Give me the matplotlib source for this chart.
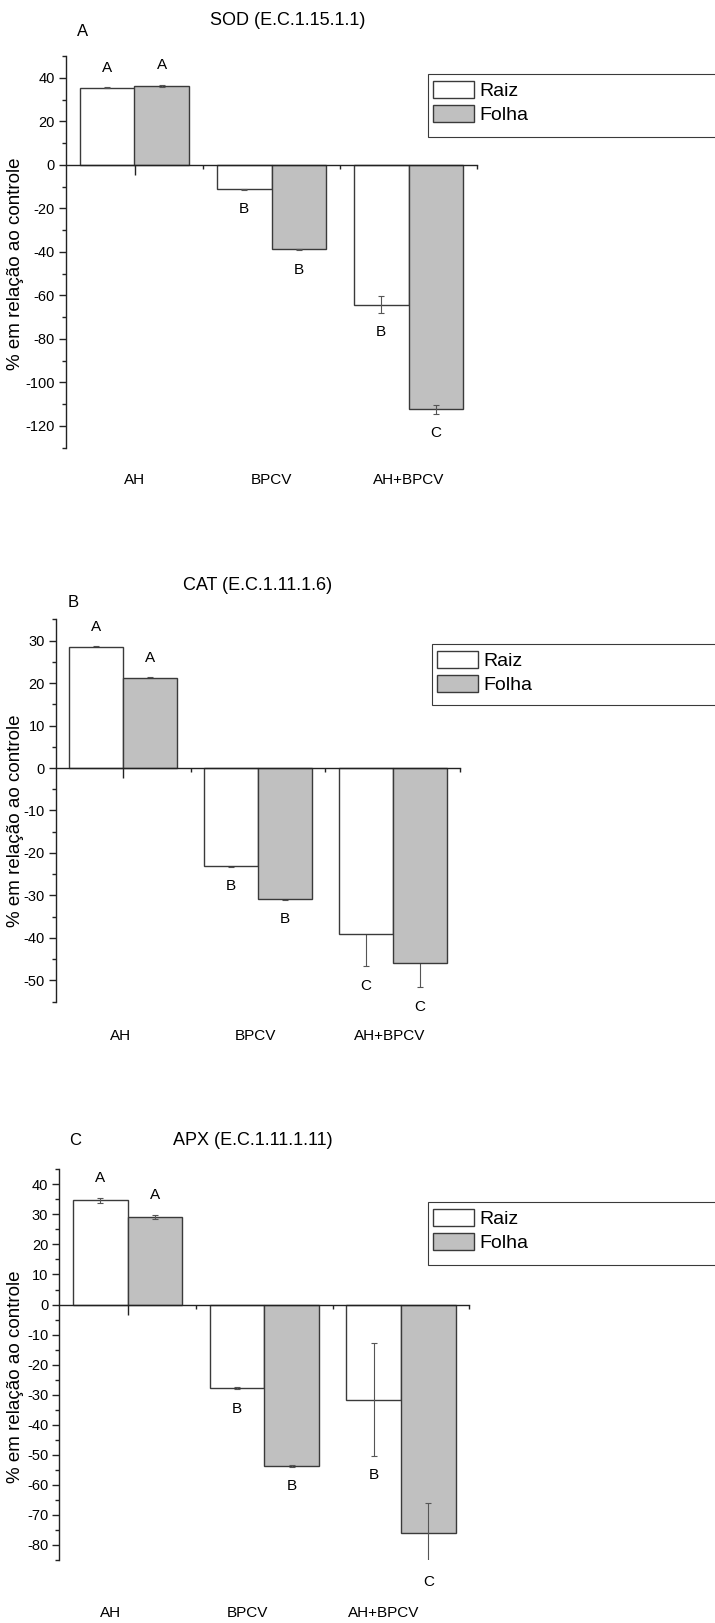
import numpy as np
import matplotlib
matplotlib.use('Agg')
import matplotlib.pyplot as plt
from matplotlib.patches import Rectangle
from matplotlib.ticker import MultipleLocator, FixedLocator

plt.rcParams['font.family'] = ['Liberation Sans', 'DejaVu Sans']
plt.rcParams['axes.unicode_minus'] = False

W, H = 715, 1623

groups = ['AH', 'BPCV', 'AH+BPCV']
series = ['Raiz', 'Folha']

# SOD
sod_raiz = [35.4, -11.3, -64.2]
sod_folha = [36.2, -38.9, -112.3]
sod_raiz_err = [0.2, 0.2, 3.8]
sod_folha_err = [0.5, 0.3, 2.1]
sod_raiz_letters = ['A', 'B', 'B']
sod_folha_letters = ['A', 'B', 'C']

# CAT
cat_raiz = [28.5, -23.1, -39.1]
cat_folha = [21.2, -30.8, -45.9]
cat_raiz_err = [0.2, 0.2, 7.6]
cat_folha_err = [0.2, 0.2, 5.7]
cat_raiz_letters = ['A', 'B', 'C']
cat_folha_letters = ['A', 'B', 'C']

# APX
apx_raiz = [34.7, -27.9, -31.6]
apx_folha = [29.1, -53.7, -75.9]
apx_raiz_err = [0.8, 0.3, 18.7]
apx_folha_err = [0.8, 0.3, 10.0]
apx_raiz_letters = ['A', 'B', 'B']
apx_folha_letters = ['A', 'B', 'C']

EDGE = '#3a3a3a'
GREY = '#c0c0c0'


def px_box(left, top, right, bottom):
    """ axes rectangle in figure fraction from pixel edges """
    return [left / W, 1 - bottom / H, (right - left) / W, (bottom - top) / H]


def plot_panel(ax, raiz, folha, raiz_err, folha_err, raiz_let, folha_let,
               ylim, major, err_front=True):
    x = np.arange(1, len(groups) + 1)
    ez = 4 if err_front else 1
    ax.set_facecolor('none')
    ax.bar(x - 0.2, raiz, 0.4, color='white', edgecolor=EDGE, linewidth=1.0,
           zorder=2, label=series[0])
    ax.bar(x + 0.2, folha, 0.4, color=GREY, edgecolor=EDGE, linewidth=1.0,
           zorder=2, label=series[1])
    ax.errorbar(x - 0.2, raiz, yerr=raiz_err, fmt='none', ecolor='#555555',
                elinewidth=0.8, capsize=2.5, capthick=0.8, zorder=ez)
    ax.errorbar(x + 0.2, folha, yerr=folha_err, fmt='none', ecolor='#555555',
                elinewidth=0.8, capsize=2.5, capthick=0.8, zorder=ez)

    # significance letters
    for xs, vals, errs, lets in [(x - 0.2, raiz, raiz_err, raiz_let),
                                 (x + 0.2, folha, folha_err, folha_let)]:
        for xi, v, e, l in zip(xs, vals, errs, lets):
            if v > 0:
                y, dy = v + e, 14
            else:
                y, dy = v - e, -14
            ax.annotate(l, (xi, y), xytext=(0, dy), textcoords='offset points',
                        ha='center', va='center', fontsize=11,
                        annotation_clip=False)

    ax.set_xlim(0.5, 3.5)
    ax.set_ylim(*ylim)
    ax.spines['top'].set_visible(False)
    ax.spines['right'].set_visible(False)
    ax.spines['bottom'].set_position(('data', 0))
    ax.spines['bottom'].set_zorder(3)
    for s in ['left', 'bottom']:
        ax.spines[s].set_linewidth(1.0)
        ax.spines[s].set_color('#222222')

    ax.yaxis.set_major_locator(MultipleLocator(major))
    ax.yaxis.set_minor_locator(MultipleLocator(major / 2))
    ax.tick_params(axis='y', which='major', direction='out', length=5,
                   width=1, labelsize=10.5, pad=3, color='#222222')
    ax.tick_params(axis='y', which='minor', direction='out', length=3,
                   width=1, color='#222222')

    ax.xaxis.set_major_locator(FixedLocator(x))
    ax.xaxis.set_minor_locator(FixedLocator(x + 0.5))
    ax.tick_params(axis='x', which='major', direction='out', length=7,
                   width=1, labelbottom=False, color='#222222')
    ax.tick_params(axis='x', which='minor', direction='out', length=3,
                   width=1, color='#222222')
    return x


def category_labels(ax, x, drop, shift):
    for xi, g in zip(x, groups):
        ax.annotate(g, xy=(xi, 0), xycoords=('data', 'axes fraction'),
                    xytext=(shift * 0.72, -drop * 0.72), textcoords='offset points',
                    ha='center', va='center', fontsize=11,
                    annotation_clip=False)


def add_legend(ax, left, top, bottom):
    # Origin-style box that runs off the right edge of the page
    ax.add_artist(Rectangle((left / W, 1 - bottom / H), (W + 10 - left) / W,
                            (bottom - top) / H, transform=fig.transFigure,
                            facecolor='white', edgecolor=EDGE, linewidth=0.8,
                            clip_on=False, zorder=4))
    ax.legend(loc='upper left', bbox_to_anchor=((left + 5) / W, 1 - (top + 7) / H),
              bbox_transform=fig.transFigure, fontsize=14, frameon=False,
              borderpad=0, handlelength=2.1, handleheight=0.95,
              labelspacing=0.25, handletextpad=0.28, borderaxespad=0)


def ylabel(center_y):
    fig.text(16 / W, 1 - center_y / H, '% em relação ao controle',
             rotation=90, ha='center', va='center', fontsize=13.5)


fig = plt.figure(figsize=(W / 100, H / 100), dpi=100)

# panel A
ax1 = fig.add_axes(px_box(66, 56, 477, 447.7))
x = plot_panel(ax1, sod_raiz, sod_folha, sod_raiz_err, sod_folha_err,
               sod_raiz_letters, sod_folha_letters, (-130, 50), 20)
category_labels(ax1, x, 32, 0)
add_legend(ax1, 428, 74, 137)
fig.text(288 / W, 1 - 20.7 / H, 'SOD (E.C.1.15.1.1)', ha='center', va='center', fontsize=13)
fig.text(83 / W, 1 - 31.7 / H, 'A', ha='center', va='center', fontsize=12)
ylabel(264)

# panel B
ax2 = fig.add_axes(px_box(56, 619.3, 460, 1001.7))
x = plot_panel(ax2, cat_raiz, cat_folha, cat_raiz_err, cat_folha_err,
               cat_raiz_letters, cat_folha_letters, (-55, 35), 10, err_front=False)
category_labels(ax2, x, 34, -3)
add_legend(ax2, 431.7, 644.3, 705)
fig.text(258 / W, 1 - 585 / H, 'CAT (E.C.1.11.1.6)', ha='center', va='center', fontsize=13)
fig.text(72.7 / W, 1 - 602.7 / H, 'B', ha='center', va='center', fontsize=12)
ylabel(821)

# panel C
ax3 = fig.add_axes(px_box(59.3, 1169.3, 469.3, 1560))
x = plot_panel(ax3, apx_raiz, apx_folha, apx_raiz_err, apx_folha_err,
               apx_raiz_letters, apx_folha_letters, (-85, 45), 10)
category_labels(ax3, x, 53, -17)
add_legend(ax3, 428.3, 1202.3, 1265)
fig.text(253 / W, 1 - 1140.7 / H, 'APX (E.C.1.11.1.11)', ha='center', va='center', fontsize=13)
fig.text(75 / W, 1 - 1140.7 / H, 'C', ha='center', va='center', fontsize=12)
ylabel(1377)

fig.savefig('out.png', dpi=100)
